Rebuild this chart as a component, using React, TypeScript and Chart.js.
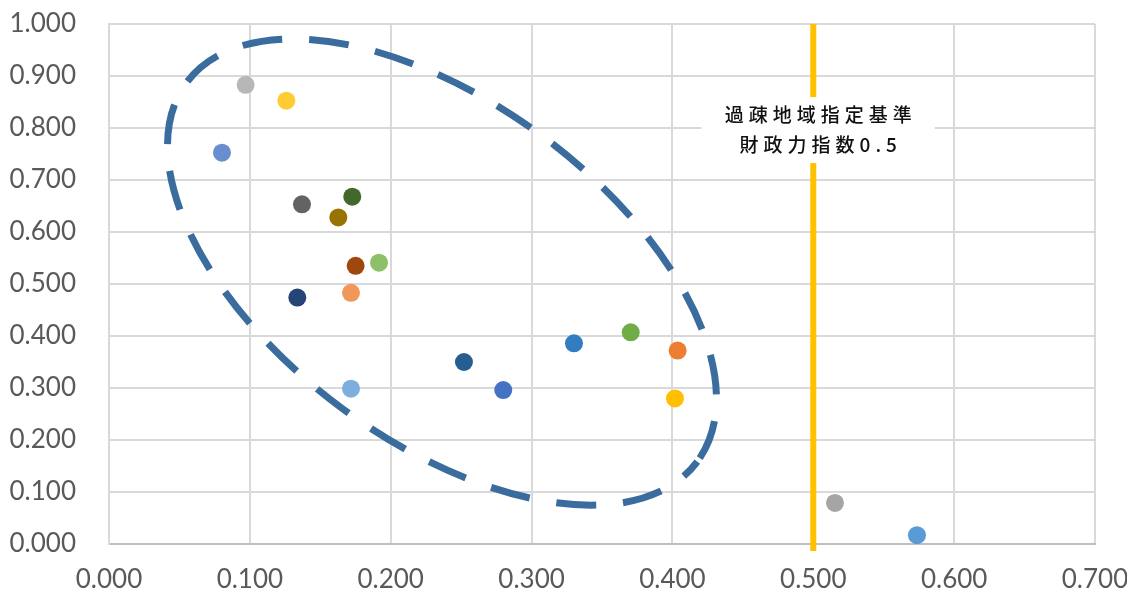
import React, { useEffect, useRef } from "react";
import { Chart, registerables } from "chart.js";

Chart.register(...registerables);

// Data (each point is one municipality / series)
const xValues = [0.5736, 0.4037, 0.5154, 0.4018, 0.2799, 0.3704, 0.252, 0.1751, 0.137, 0.1628, 0.1337, 0.1727, 0.1718, 0.1718, 0.097, 0.1259, 0.0802, 0.1917, 0.3301];
const yValues = [0.017, 0.372, 0.079, 0.28, 0.296, 0.407, 0.35, 0.535, 0.6533, 0.628, 0.474, 0.668, 0.2987, 0.483, 0.883, 0.8525, 0.7525, 0.541, 0.386];
const pointColors = ["#5B9BD5", "#ED7D31", "#A5A5A5", "#FFC000", "#4472C4", "#70AD47", "#255E91", "#9E480E", "#636363", "#997300", "#264478", "#43682B", "#7CAFDD", "#F1975A", "#B7B7B7", "#FFCD33", "#698ED0", "#8CC168", "#327DC2"];

const xTicks = { min: 0, max: 0.7, step: 0.1 };
const yTicks = { min: 0, max: 1.0, step: 0.1 };

// Reference line (過疎地域指定基準 財政力指数 0.5)
const thresholdX = 0.5;
const thresholdLabelY = 0.796;
const thresholdLabel = ["過疎地域指定基準", "財政力指数0.5"];

// Dashed ellipse around the group (centre in data units)
const ellipseCenter = { x: 0.2364, y: 0.523 };

export default function App() {
  const canvasRef = useRef<HTMLCanvasElement | null>(null);

  useEffect(() => {
    document.body.style.margin = "0";
    const canvas = canvasRef.current!;
    const overlay = {
      id: "overlay",
      beforeDatasetsDraw(chart: any) {
        const { ctx, scales } = chart;
        const xs = scales.x;
        const ys = scales.y;
        const px = xs.getPixelForValue(thresholdX);
        ctx.save();
        ctx.strokeStyle = "#FFC000";
        ctx.lineWidth = 6;
        ctx.beginPath();
        ctx.moveTo(px, ys.top);
        ctx.lineTo(px, ys.bottom + 7);
        ctx.stroke();
        // label box
        const cy = ys.getPixelForValue(thresholdLabelY);
        const cx = px + 5;
        const w = 233;
        const h = 66;
        ctx.fillStyle = "#FFFFFF";
        ctx.fillRect(cx - w / 2, cy - h / 2, w, h);
        ctx.fillStyle = "#111111";
        ctx.font = '500 19px "Noto Sans CJK JP"';
        (ctx as any).letterSpacing = "5px";
        ctx.textAlign = "left";
        ctx.textBaseline = "middle";
        thresholdLabel.forEach((t, i) => {
          const tw = ctx.measureText(t).width - 5;
          ctx.fillText(t, cx - tw / 2, cy - 15 + i * 30);
        });
        (ctx as any).letterSpacing = "0px";
        ctx.restore();
      },
      afterDatasetsDraw(chart: any) {
        const { ctx, scales } = chart;
        const cx = scales.x.getPixelForValue(ellipseCenter.x);
        const cy = scales.y.getPixelForValue(ellipseCenter.y);
        ctx.save();
        ctx.strokeStyle = "#3A6D9E";
        ctx.lineWidth = 7;
        ctx.setLineDash([40, 27]);
        ctx.lineDashOffset = 20;
        ctx.beginPath();
        ctx.ellipse(cx, cy, 318, 169, (36.6 * Math.PI) / 180, 0, Math.PI * 2);
        ctx.stroke();
        ctx.restore();
      },
    };

    const chart = new Chart(canvas, {
      type: "scatter",
      data: {
        datasets: [
          {
            data: xValues.map((x, i) => ({ x, y: yValues[i] })),
            pointBackgroundColor: pointColors,
            pointBorderColor: pointColors,
            pointRadius: 9,
            pointBorderWidth: 0,
          },
        ],
      },
      options: {
        responsive: false,
        animation: false,
        devicePixelRatio: 1,
        layout: { padding: { left: 0, right: 32, top: 24, bottom: 0 } },
        plugins: { legend: { display: false }, tooltip: { enabled: false } },
        scales: {
          x: {
            type: "linear",
            min: xTicks.min,
            max: xTicks.max,
            afterFit: (s: any) => {
              s.height = 50;
              s.paddingLeft = 0;
              s.paddingRight = 0;
            },
            ticks: {
              stepSize: xTicks.step,
              padding: 20,
              color: "#595959",
              font: { family: "Lato", size: 26 },
              callback: (v: any) => Number(v).toFixed(3),
            },
            grid: { color: "#D9D9D9", lineWidth: 2, drawTicks: false },
            border: { color: "#BFBFBF", width: 2 },
          },
          y: {
            type: "linear",
            min: yTicks.min,
            max: yTicks.max,
            afterFit: (s: any) => {
              s.width = 109;
              s.paddingTop = 0;
              s.paddingBottom = 0;
            },
            ticks: {
              stepSize: yTicks.step,
              padding: 33,
              color: "#595959",
              font: { family: "Lato", size: 26 },
              callback: (v: any) => Number(v).toFixed(3),
            },
            grid: { color: "#D9D9D9", lineWidth: 2, drawTicks: false },
            border: { color: "#D9D9D9", width: 2 },
          },
        },
      },
      plugins: [overlay],
    });
    return () => chart.destroy();
  }, []);

  return (
    <div style={{ position: "absolute", left: 0, top: 0, width: 1127, height: 594, background: "#fff" }}>
      <canvas ref={canvasRef} width={1127} height={594} />
    </div>
  );
}
